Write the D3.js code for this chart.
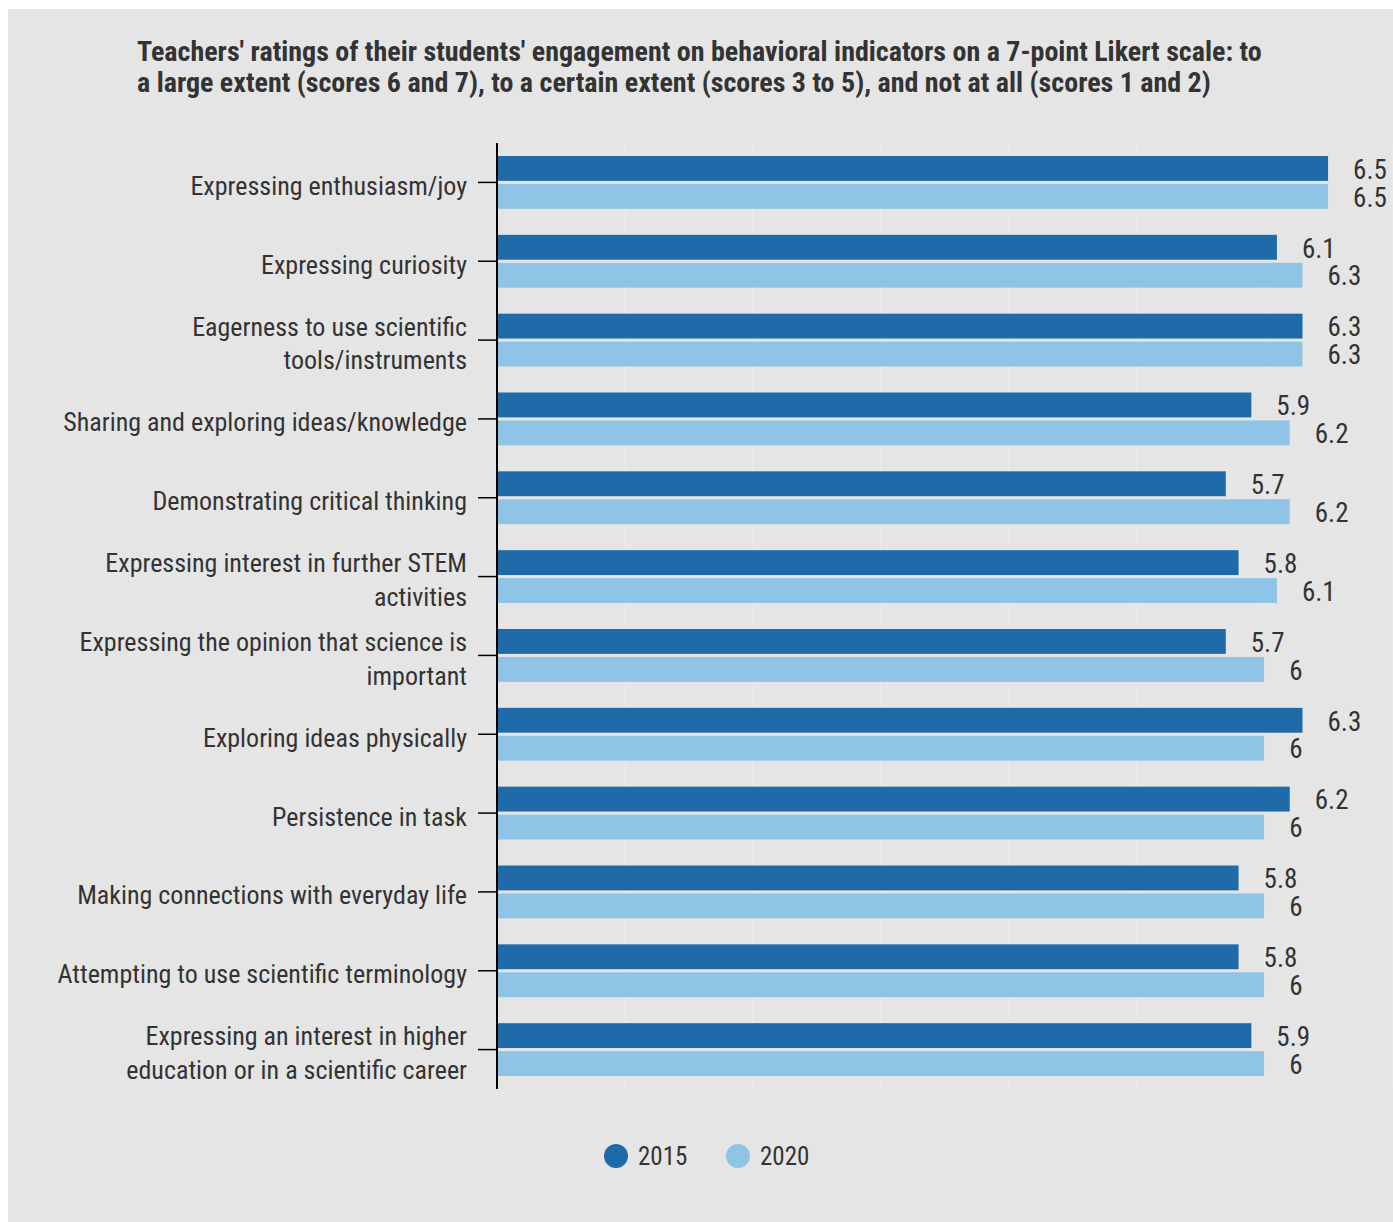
<!DOCTYPE html>
<html>
<head>
<meta charset="utf-8">
<script src="https://cdn.jsdelivr.net/npm/d3@7"></script>
<style>
  body { margin: 0; background: #fff; }
  text { font-family: "Roboto Condensed", Roboto, sans-serif; fill: #333; }
</style>
</head>
<body>
<div id="chart"></div>
<script>
// categories top to bottom
var categories = [
    "Expressing enthusiasm/joy",
    "Expressing curiosity",
    "Eagerness to use scientific tools/instruments",
    "Sharing and exploring ideas/knowledge",
    "Demonstrating critical thinking",
    "Expressing interest in further STEM activities",
    "Expressing the opinion that science is important",
    "Exploring ideas physically",
    "Persistence in task",
    "Making connections with everyday life",
    "Attempting to use scientific terminology",
    "Expressing an interest in higher education or in a scientific career"
];
var years = ["2015", "2020"];
var values2015 = [6.5, 6.1, 6.3, 5.9, 5.7, 5.8, 5.7, 6.3, 6.2, 5.8, 5.8, 5.9];
var values2020 = [6.5, 6.3, 6.3, 6.2, 6.2, 6.1, 6, 6, 6, 6, 6, 6];
var xTicks = [1, 2, 3, 4, 5, 6, 7];
var colors = ["#1f6aa8", "#90c4e6"];
var titleLines = [
    "Teachers' ratings of their students' engagement on behavioral indicators on a 7-point Likert scale: to",
    "a large extent (scores 6 and 7), to a certain extent (scores 3 to 5), and not at all (scores 1 and 2)"
];

var W = 1393, H = 1222;
var margin = {top: 143, left: 497, right: 1, bottom: 133};

var data = categories.map(function (c, i) {
    return {cat: c, vals: [{year: "2015", v: values2015[i]}, {year: "2020", v: values2020[i]}]};
});

var svg = d3.select("#chart").append("svg")
    .attr("width", W).attr("height", H);

// panel background
svg.append("rect")
    .attr("x", 8).attr("y", 9)
    .attr("width", W - 8).attr("height", H - 9)
    .attr("fill", "#e5e5e5");

var x = d3.scaleLinear()
    .domain([0, 7])
    .range([margin.left, W - margin.right]);

var y = d3.scaleBand()
    .domain(categories)
    .range([margin.top, H - margin.bottom])
    .paddingInner(0.33)
    .paddingOuter(0.165);

var y1 = d3.scaleBand()
    .domain(years)
    .range([0, y.bandwidth()])
    .paddingInner(0.11);

var color = d3.scaleOrdinal().domain(years).range(colors);

// faint gridlines
svg.append("g")
    .selectAll("line")
    .data(xTicks)
    .enter()
    .append("line")
    .attr("x1", d => x(d)).attr("x2", d => x(d))
    .attr("y1", margin.top).attr("y2", H - margin.bottom)
    .attr("stroke", "#ebebeb")
    .attr("stroke-width", 1);

// bars
var groups = svg.append("g")
    .selectAll("g")
    .data(data)
    .enter()
    .append("g")
    .attr("transform", d => "translate(0," + y(d.cat) + ")");

groups.selectAll("rect")
    .data(d => d.vals)
    .enter()
    .append("rect")
    .attr("x", x(0))
    .attr("y", d => y1(d.year))
    .attr("width", d => x(d.v) - x(0))
    .attr("height", y1.bandwidth())
    .attr("fill", d => color(d.year));

groups.selectAll("text.val")
    .data(d => d.vals)
    .enter()
    .append("text")
    .attr("class", "val")
    .attr("x", d => x(d.v) + 25)
    .attr("y", d => y1(d.year) + y1.bandwidth() / 2)
    .attr("dy", "0.38em")
    .style("font-size", "27px")
    .text(d => d3.format("~g")(d.v));

// y axis
var yAxis = svg.append("g")
    .attr("transform", "translate(" + margin.left + ",0)")
    .call(d3.axisLeft(y).tickSize(19).tickPadding(11));

yAxis.select(".domain")
    .attr("d", "M0," + margin.top + "V" + (H - margin.bottom))
    .attr("stroke", "#000")
    .attr("stroke-width", 2);
yAxis.selectAll(".tick line").attr("stroke", "#000").attr("stroke-width", 1.5);
yAxis.selectAll(".tick text")
    .attr("fill", "#333")
    .style("font-size", "26px")
    .style("font-family", "'Roboto Condensed', Roboto, sans-serif")
    .call(wrap, 415);

function wrap(texts, width) {
    texts.each(function () {
        var text = d3.select(this);
        var words = text.text().split(/\s+/);
        var lines = [], line = [];
        text.text(null);
        var probe = text.append("tspan");
        words.forEach(function (w) {
            line.push(w);
            probe.text(line.join(" "));
            if (probe.node().getComputedTextLength() > width && line.length > 1) {
                line.pop();
                lines.push(line.join(" "));
                line = [w];
            }
        });
        lines.push(line.join(" "));
        probe.remove();
        var lh = 1.3;
        var first = 0.48 - (lines.length - 1) * lh / 2;
        lines.forEach(function (l, i) {
            text.append("tspan")
                .attr("x", -30)
                .attr("dy", (i === 0 ? first : lh) + "em")
                .text(l);
        });
        text.attr("dy", null);
    });
}

// title
svg.append("g")
    .selectAll("text")
    .data(titleLines)
    .enter()
    .append("text")
    .attr("x", 137)
    .attr("y", (d, i) => 61 + i * 31)
    .style("font-size", "28px")
    .style("font-weight", "bold")
    .text(d => d);

// legend
var legend = svg.append("g")
    .selectAll("g")
    .data(years)
    .enter()
    .append("g")
    .attr("transform", (d, i) => "translate(" + (616 + i * 122) + ",1156)");

legend.append("circle")
    .attr("r", 12)
    .attr("fill", d => color(d));

legend.append("text")
    .attr("x", 22)
    .attr("dy", "0.36em")
    .style("font-size", "25px")
    .text(d => d);
</script>
</body>
</html>
